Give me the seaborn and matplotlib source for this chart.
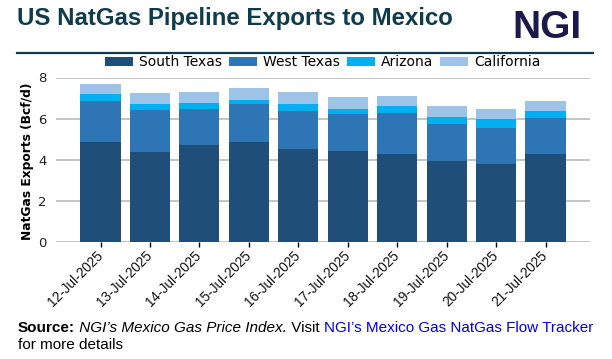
import numpy as np
import pandas as pd
import matplotlib.pyplot as plt
import seaborn as sns
from matplotlib.lines import Line2D
from matplotlib.patches import Patch

dates = ['12-Jul-2025', '13-Jul-2025', '14-Jul-2025', '15-Jul-2025', '16-Jul-2025',
         '17-Jul-2025', '18-Jul-2025', '19-Jul-2025', '20-Jul-2025', '21-Jul-2025']
south_texas = [4.85, 4.36, 4.70, 4.85, 4.51, 4.41, 4.26, 3.95, 3.78, 4.26]
west_texas = [1.99, 2.04, 1.75, 1.84, 1.84, 1.80, 2.00, 1.77, 1.75, 1.75]
arizona = [0.34, 0.29, 0.29, 0.20, 0.34, 0.24, 0.34, 0.34, 0.43, 0.34]
california = [0.49, 0.54, 0.54, 0.58, 0.59, 0.58, 0.48, 0.54, 0.49, 0.49]

regions = ['South Texas', 'West Texas', 'Arizona', 'California']
colors = ['#1f4e79', '#2e75b6', '#00b0f0', '#9dc3e6']

df = pd.DataFrame({'Date': dates, 'South Texas': south_texas, 'West Texas': west_texas,
                   'Arizona': arizona, 'California': california})
# cumulative tops so each layer can be drawn behind the one below it
cum = df[regions].cumsum(axis=1)
cum['Date'] = df['Date']

W, H = 612, 359
fig = plt.figure(figsize=(W / 100, H / 100), dpi=100)
ax = fig.add_axes([56 / W, 1 - 241.7 / H, 534 / W, 164.2 / H])

for reg, col in reversed(list(zip(regions, colors))):
    sns.barplot(data=cum, x='Date', y=reg, order=dates, color=col, saturation=1,
                width=0.81, errorbar=None, linewidth=0, ax=ax, zorder=2)

ax.set_ylim(0, 8)
ax.set_xlim(-0.9, 9.9)
ax.set_yticks([0, 2, 4, 6, 8])
ax.yaxis.grid(True, color='#b4b4b4', linewidth=1.1, zorder=0)
ax.set_axisbelow(True)
for s in ax.spines.values():
    s.set_visible(False)
ax.tick_params(axis='y', length=0, pad=7, labelsize=9.5, labelcolor='#222222')
ax.tick_params(axis='x', length=3.6, width=1, pad=4.5, color='black')
ax.set_xlabel('')
ax.set_ylabel('NatGas Exports (Bcf/d)', fontsize=8.8, fontweight='bold')
ax.yaxis.set_label_coords(-0.041, 0.49)
ax.set_xticks(range(len(dates)))
ax.set_xticklabels(dates, rotation=45, ha='right', va='center', rotation_mode='anchor',
                   fontsize=9.8, family='Liberation Sans', color='#111111')

handles = [Patch(facecolor=c, label=r) for r, c in zip(regions, colors)]
fig.legend(handles=handles, loc='center', bbox_to_anchor=(323 / W, 1 - 62 / H), ncol=4,
           frameon=False, fontsize=10, handlelength=2, handleheight=0.6,
           columnspacing=0.5, handletextpad=0.45, borderaxespad=0)

fig.text(17 / W, 1 - 25 / H, 'US NatGas Pipeline Exports to Mexico', fontsize=17.3,
         fontweight='bold', family='Liberation Sans', color='#0f3c4d', va='baseline')
fig.text(512 / W, 1 - 38.3 / H, 'NGI', fontsize=28, fontweight='bold',
         family='Liberation Sans', color='#1b1a49', va='baseline')
fig.add_artist(Line2D([17 / W, 593 / W], [1 - 52.7 / H] * 2, color='#0d3b4a', linewidth=1.6))

# source note, pieces laid out one after another
fs = 11
src_y = 1 - 332 / H
pieces = [('Source:', dict(fontweight='bold')),
          (' NGI\u2019s Mexico Gas Price Index.', dict(style='italic')),
          (' Visit ', {}),
          ('NGI\u2019s Mexico Gas NatGas Flow Tracker', dict(color='#0000ee'))]
r = fig.canvas.get_renderer()
x_px = 18
for txt, kw in pieces:
    t = fig.text(x_px / W, src_y, txt, fontsize=fs, family='Liberation Sans',
                 va='baseline', **kw)
    x_px = t.get_window_extent(r).x1
fig.text(18 / W, 1 - 349 / H, 'for more details', fontsize=fs, family='Liberation Sans',
         va='baseline')

fig.savefig('out.png', dpi=100)
